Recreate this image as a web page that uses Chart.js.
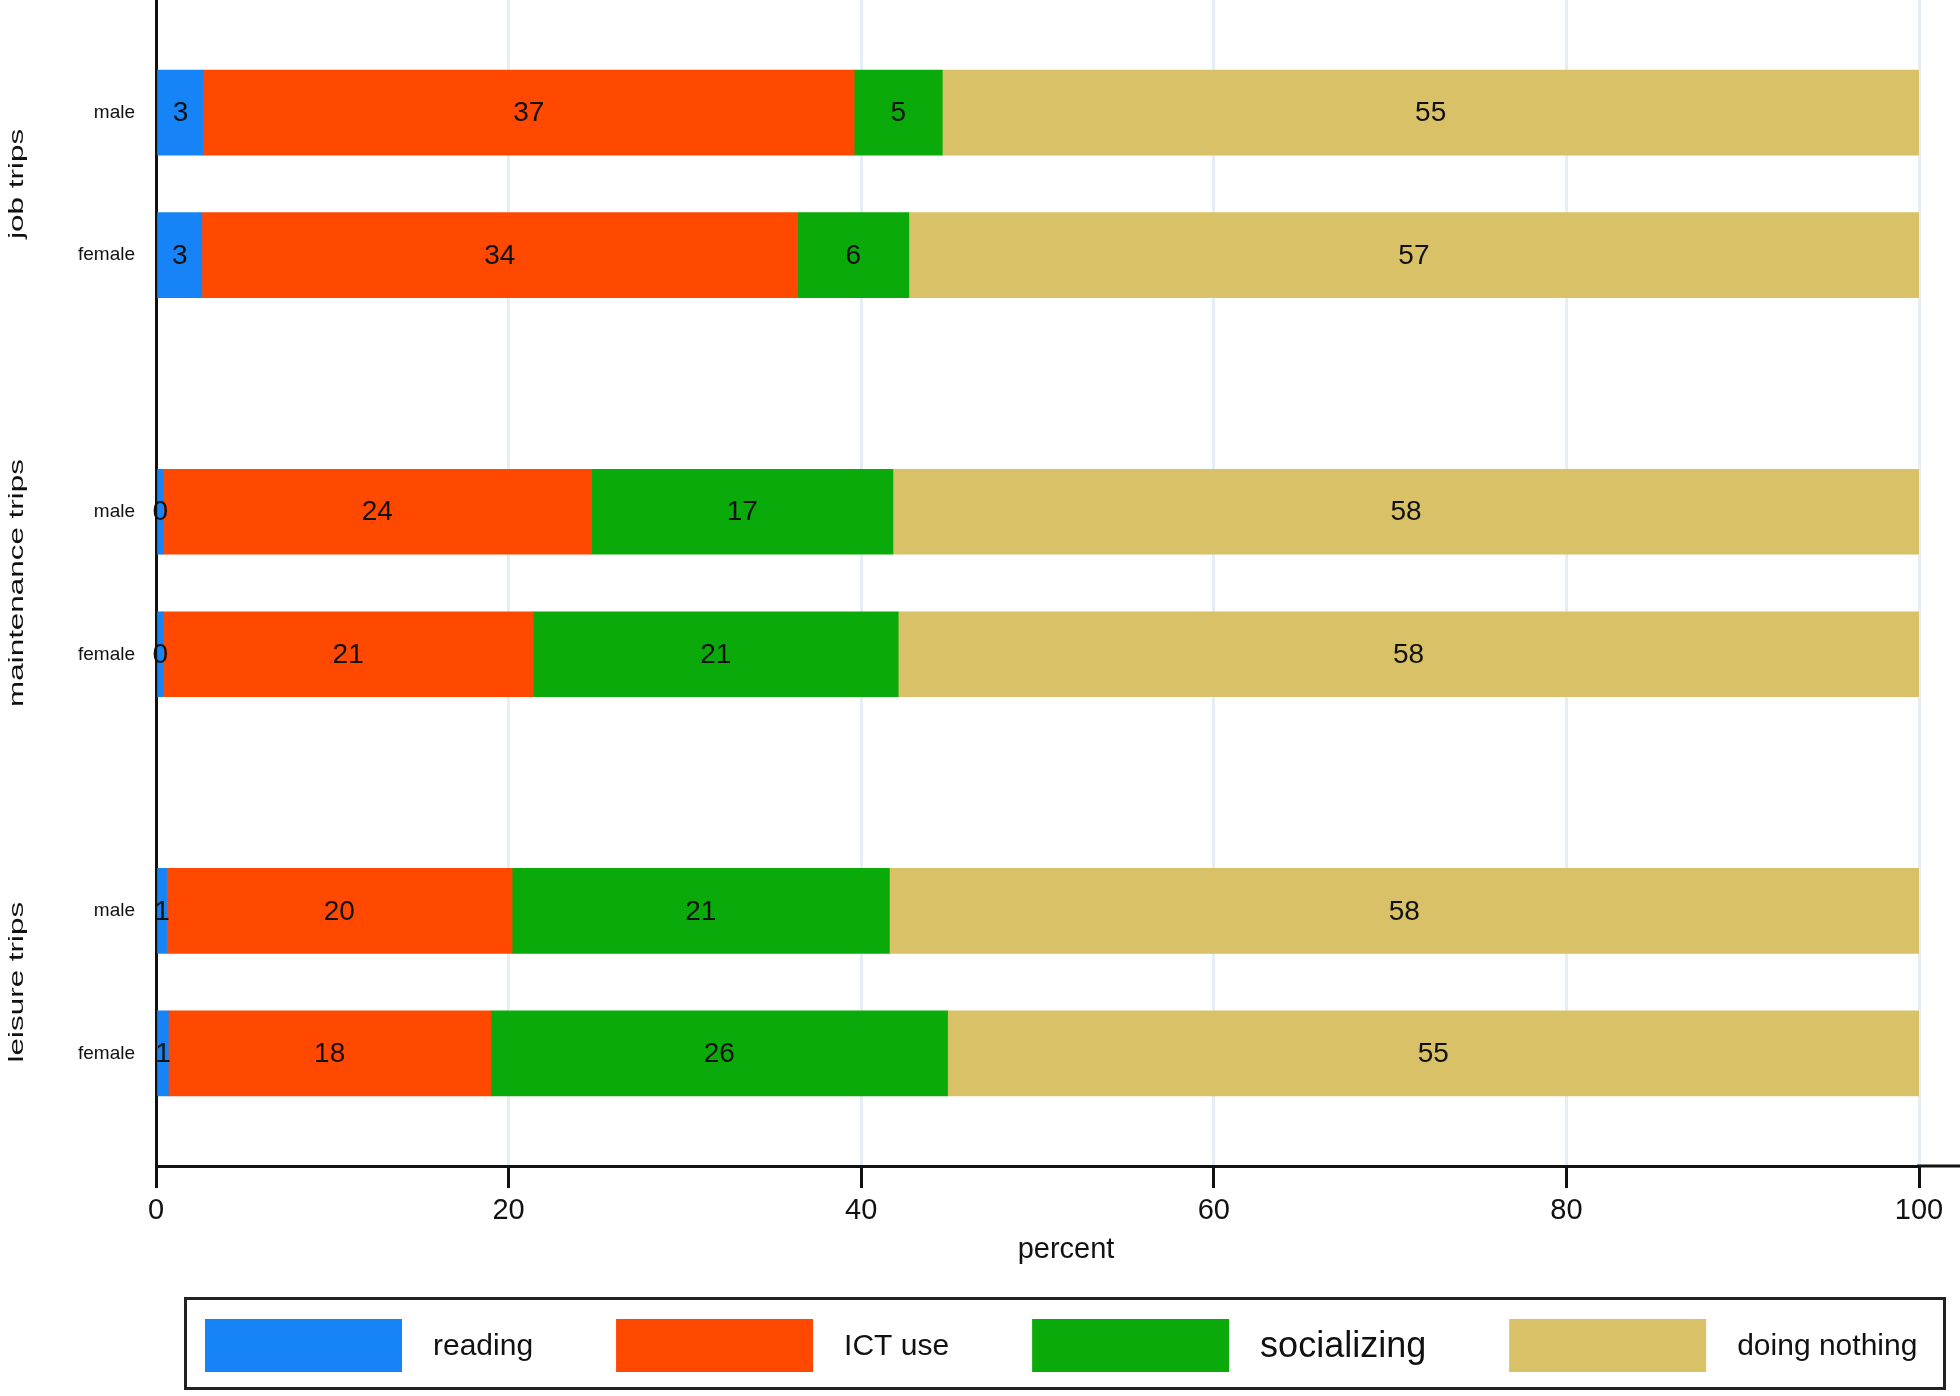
<!DOCTYPE html>
<html>
<head>
<meta charset="utf-8">
<script src="https://cdn.jsdelivr.net/npm/chart.js@4.4.1/dist/chart.umd.min.js"></script>
<style>
html, body { margin: 0; padding: 0; background: #fff; }
#wrap { position: relative; width: 1960px; height: 1396px; }
</style>
</head>
<body>
<div id="wrap"><canvas id="chart"></canvas></div>
<script>
const tripGroups = ['job trips', 'maintenance trips', 'leisure trips'];
const sexLabels = ['male', 'female'];
const activities = ['reading', 'ICT use', 'socializing', 'doing nothing'];
// rows: job male, job female, maintenance male, maintenance female, leisure male, leisure female
const reading = [2.7, 2.6, 0.4, 0.4, 0.6, 0.7];
const ictUse = [36.9, 33.8, 24.3, 21.0, 19.6, 18.3];
const socializing = [5.0, 6.3, 17.1, 20.7, 21.4, 25.9];
const doingNothing = [55.4, 57.3, 58.2, 57.9, 58.4, 55.1];
const xTicks = [0, 20, 40, 60, 80, 100];
const colors = ['#1684f6', '#ff4800', '#0aaa0a', '#d8c166'];

const FONT = '"Liberation Sans", Arial, Helvetica, sans-serif';
Chart.defaults.font.family = FONT;

// bar slots along the category axis, with a wider gap between trip groups
const edge = 0.79;
const groupGap = 0.8;
const rowPos = [];
tripGroups.forEach((g, gi) => {
	sexLabels.forEach((s, si) => {
		rowPos.push(edge + gi * (sexLabels.length + groupGap) + si);
	});
});
const yMax = rowPos[rowPos.length - 1] + edge;

const series = [reading, ictUse, socializing, doingNothing];

const barLabels = {
	id: 'barLabels',
	afterDatasetsDraw(chart) {
		const { ctx } = chart;
		ctx.save();
		ctx.font = `28px ${FONT}`;
		ctx.fillStyle = '#111';
		ctx.textAlign = 'center';
		ctx.textBaseline = 'middle';
		chart.data.datasets.forEach((ds, k) => {
			chart.getDatasetMeta(k).data.forEach((el, i) => {
				const p = el.getCenterPoint();
				ctx.fillText(String(Math.round(series[k][i])), p.x, p.y + 1);
			});
		});
		ctx.restore();
	},
};

const extras = {
	id: 'extras',
	afterDraw(chart) {
		const { ctx, chartArea, scales } = chart;
		const y = scales.y;
		ctx.save();

		// x axis line runs on past 100
		ctx.strokeStyle = '#111';
		ctx.lineWidth = 3;
		ctx.beginPath();
		ctx.moveTo(chartArea.right - 2, chartArea.bottom);
		ctx.lineTo(chart.width, chartArea.bottom);
		ctx.stroke();

		// rotated group labels
		ctx.fillStyle = '#111';
		ctx.textAlign = 'center';
		ctx.textBaseline = 'middle';
		tripGroups.forEach((g, gi) => {
			const a = y.getPixelForValue(rowPos[gi * 2]);
			const b = y.getPixelForValue(rowPos[gi * 2 + 1]);
			ctx.save();
			ctx.translate(17, (a + b) / 2);
			ctx.rotate(-Math.PI / 2);
			ctx.scale(1.57, 1);
			ctx.font = `20px ${FONT}`;
			ctx.fillText(g, 0, 0);
			ctx.restore();
		});

		// axis title
		ctx.font = `29px ${FONT}`;
		ctx.fillText('percent', 1066, 1250);

		// legend
		ctx.lineWidth = 3;
		ctx.strokeStyle = '#222';
		ctx.strokeRect(185.5, 1298.5, 1759, 90);
		let x = 205;
		ctx.textAlign = 'left';
		activities.forEach((name, k) => {
			ctx.fillStyle = colors[k];
			ctx.fillRect(x, 1319, 197, 53);
			x += 197 + 31;
			ctx.fillStyle = '#111';
			ctx.font = `${name === 'socializing' ? 36 : 30}px ${FONT}`;
			ctx.fillText(name, x, 1347);
			x += ctx.measureText(name).width + 83;
		});
		ctx.restore();
	},
};

new Chart(document.getElementById('chart'), {
	type: 'bar',
	data: {
		datasets: series.map((vals, k) => ({
			label: activities[k],
			data: vals.map((v, i) => ({ x: v, y: rowPos[i] })),
			backgroundColor: colors[k],
			borderWidth: 0,
			barThickness: 85,
		})),
	},
	options: {
		indexAxis: 'y',
		responsive: true,
		maintainAspectRatio: false,
		animation: false,
		layout: {
			padding: { left: 0, right: 41, top: 0, bottom: 0 },
		},
		plugins: {
			legend: { display: false },
			tooltip: { enabled: false },
		},
		scales: {
			x: {
				type: 'linear',
				stacked: true,
				min: 0,
				max: 100,
				afterBuildTicks: (scale) => {
					scale.ticks = xTicks.map((v) => ({ value: v }));
				},
				afterFit: (scale) => {
					scale.height = 230;
				},
				ticks: {
					color: '#111',
					padding: 6,
					font: { size: 29 },
				},
				grid: {
					color: '#e6eef5',
					lineWidth: 3,
					tickColor: '#111',
					tickWidth: 3,
					tickLength: 22,
				},
				border: { display: true, color: '#111', width: 3 },
			},
			y: {
				type: 'linear',
				stacked: true,
				reverse: true,
				offset: false,
				min: 0,
				max: yMax,
				afterBuildTicks: (scale) => {
					scale.ticks = rowPos.map((v) => ({ value: v }));
				},
				afterFit: (scale) => {
					scale.width = 156;
					scale.paddingTop = 0;
					scale.paddingBottom = 0;
				},
				ticks: {
					color: '#111',
					padding: 21,
					font: { size: 19 },
					callback: (value, index) => sexLabels[index % sexLabels.length],
				},
				grid: { display: false, drawTicks: false, offset: false },
				border: { display: true, color: '#111', width: 3 },
			},
		},
	},
	plugins: [barLabels, extras],
});
</script>
</body>
</html>
